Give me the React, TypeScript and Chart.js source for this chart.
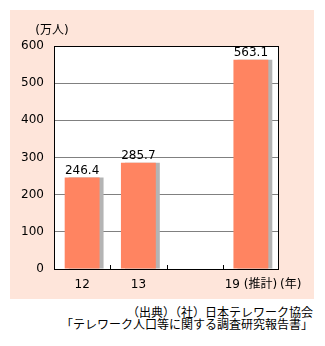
import React, { useEffect, useRef } from "react";
import { Chart, registerables } from "chart.js";

Chart.register(...registerables);

const categories = ["12", "13", "", "19 (推計)"];
const values: (number | null)[] = [246.4, 285.7, null, 563.1];
const yMin = 0;
const yMax = 600;
const yStep = 100;
const yUnit = "(万人)";
const xUnit = "(年)";
const sourceLines = ["（出典）（社）日本テレワーク協会", "「テレワーク人口等に関する調査研究報告書」"];

const FONT = "'DejaVu Sans', 'Noto Sans CJK JP', sans-serif";
const CJK = "'Noto Sans CJK JP', 'DejaVu Sans', sans-serif";

const decorPlugin = {
  id: "decor",
  beforeDraw(chart: any) {
    const { ctx, chartArea: a } = chart;
    ctx.save();
    ctx.fillStyle = "#ffffff";
    ctx.fillRect(a.left, a.top, a.right - a.left, a.bottom - a.top);
    ctx.restore();
  },
  beforeDatasetDraw(chart: any) {
    const ctx = chart.ctx;
    ctx.save();
    ctx.shadowColor = "#b4b4b4";
    ctx.shadowOffsetX = 4;
    ctx.shadowOffsetY = 0;
    ctx.shadowBlur = 0;
  },
  afterDatasetDraw(chart: any) {
    chart.ctx.restore();
  },
  afterDraw(chart: any) {
    const { ctx, chartArea: a } = chart;
    const xs = chart.scales.x;
    ctx.save();
    // frame
    ctx.strokeStyle = "#000";
    ctx.lineWidth = 1;
    ctx.strokeRect(a.left + 0.5, a.top + 0.5, a.right - a.left - 1, a.bottom - a.top);
    // inward tick marks between categories
    ctx.beginPath();
    for (let i = 1; i < categories.length; i++) {
      const x = Math.round((xs.getPixelForValue(i - 1) + xs.getPixelForValue(i)) / 2) + 0.5;
      ctx.moveTo(x, a.bottom);
      ctx.lineTo(x, a.bottom - 4);
    }
    ctx.stroke();
    // value labels
    ctx.fillStyle = "#000";
    ctx.font = `12px ${FONT}`;
    ctx.textAlign = "center";
    ctx.textBaseline = "bottom";
    const meta = chart.getDatasetMeta(0);
    meta.data.forEach((bar: any, i: number) => {
      const v = values[i];
      if (v == null) return;
      ctx.fillText(v.toFixed(1), bar.x, bar.y - 1);
    });
    // y unit
    ctx.textBaseline = "middle";
    ctx.fillText(yUnit, 42, 21);
    // x unit
    const last = categories.length - 1;
    const w = ctx.measureText(categories[last]).width;
    ctx.textAlign = "left";
    ctx.fillText(xUnit, xs.getPixelForValue(last) + w / 2 + 3, a.bottom + 16);
    ctx.restore();
  },
};

export default function App() {
  const ref = useRef<HTMLCanvasElement>(null);
  useEffect(() => {
    if (!ref.current) return;
    const chart = new Chart(ref.current, {
      type: "bar",
      data: {
        labels: categories,
        datasets: [
          {
            data: values,
            backgroundColor: "#ff8461",
            borderWidth: 0,
            barPercentage: 0.62,
            categoryPercentage: 1,
          },
        ],
      },
      options: {
        animation: false,
        responsive: false,
        maintainAspectRatio: false,
        layout: { padding: { top: 36, right: 35, left: 0, bottom: 0 } },
        plugins: { legend: { display: false }, tooltip: { enabled: false } },
        scales: {
          x: {
            grid: { display: false, drawTicks: false },
            border: { display: false },
            ticks: { color: "#000", font: { family: FONT, size: 12 }, padding: 9, maxRotation: 0, autoSkip: false },
            afterFit: (s: any) => {
              s.height = 30;
            },
          },
          y: {
            min: yMin,
            max: yMax,
            grid: {
              drawTicks: false,
              color: (c: any) => (c.tick && (c.tick.value === yMin || c.tick.value === yMax) ? "rgba(0,0,0,0)" : "#808080"),
            },
            border: { display: false },
            ticks: { stepSize: yStep, color: "#000", font: { family: FONT, size: 12 }, padding: 10 },
            afterFit: (s: any) => {
              s.width = 44;
            },
          },
        },
      },
      plugins: [decorPlugin],
    });
    return () => chart.destroy();
  }, []);

  return (
    <div style={{ position: "absolute", left: 0, top: 0, width: 325, height: 346, background: "#fff" }}>
      <div style={{ position: "absolute", left: 10, top: 10, width: 304, height: 289, background: "#fee5da" }}>
        <canvas ref={ref} width={304} height={289} style={{ display: "block", width: 304, height: 289 }} />
      </div>
      <div
        style={{
          position: "absolute",
          right: 12,
          top: 306,
          textAlign: "right",
          fontFamily: CJK,
          fontSize: 12,
          lineHeight: "12px",
          color: "#000",
          whiteSpace: "nowrap",
        }}
      >
        {sourceLines.map((l, i) => (
          <div key={i}>{l}</div>
        ))}
      </div>
    </div>
  );
}
